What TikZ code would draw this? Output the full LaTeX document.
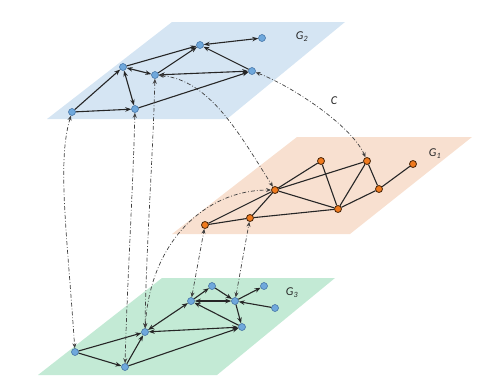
\documentclass[tikz,border=0pt]{standalone}
\usepackage{fontspec}
\setmainfont{Carlito}
\usetikzlibrary{arrows.meta}
\definecolor{planeB}{HTML}{D5E5F3}
\definecolor{planeO}{HTML}{F8E0D0}
\definecolor{planeG}{HTML}{C3EAD5}
\definecolor{nodeB}{HTML}{6FA8DC}
\definecolor{nodeBd}{HTML}{3A6A9E}
\definecolor{nodeO}{HTML}{F07A1E}
\definecolor{nodeOd}{HTML}{4A2508}
\definecolor{linkc}{HTML}{404040}
\tikzset{
  bnode/.style={circle,fill=nodeB,draw=nodeBd,line width=0.5pt,inner sep=0pt,minimum size=7pt},
  onode/.style={circle,fill=nodeO,draw=nodeOd,line width=0.8pt,inner sep=0pt,minimum size=7pt},
  edge/.style={line width=1.1pt,black!85},
  dir/.style={edge,-{Stealth[length=6pt,width=4.5pt]}},
  bidir/.style={edge,{Stealth[length=6pt,width=4.5pt]}-{Stealth[length=6pt,width=4.5pt]}},
  link/.style={linkc,line width=0.7pt,dash pattern=on 4pt off 2pt on 0.8pt off 2pt,
    {Stealth[length=5pt,width=4pt]}-{Stealth[length=5pt,width=4pt]}},
  lbl/.style={font=\itshape\fontsize{12}{14}\selectfont,text=black!85}
}
\begin{document}
\begin{tikzpicture}[x=1pt,y=-1pt]
\useasboundingbox (0,0) rectangle (504,389);
% planes
\fill[planeB] (47,119) -- (227,119) -- (345,22) -- (172,22) -- cycle;
\fill[planeO] (172,234) -- (350,234) -- (472,137) -- (297,137) -- cycle;
\fill[planeG] (38,375) -- (217,375) -- (335,278) -- (162,278) -- cycle;
% labels
\node[lbl] (lG2) at (302,37) {G\textsubscript{2}};
\node[lbl] (lC) at (334,101) {C};
\node[lbl] (lG1) at (435,154) {G\textsubscript{1}};
\node[lbl] (lG3) at (292,293) {G\textsubscript{3}};
% G2 nodes
\node[bnode] (a) at (262,38) {};
\node[bnode] (b) at (200,45) {};
\node[bnode] (c) at (123,67) {};
\node[bnode] (d) at (155,75) {};
\node[bnode] (e) at (252,71) {};
\node[bnode] (f) at (72,112) {};
\node[bnode] (g) at (135,109) {};
% G1 nodes
\node[onode] (p1) at (321,161) {};
\node[onode] (p2) at (367,161) {};
\node[onode] (p3) at (413,164) {};
\node[onode] (p4) at (275,190) {};
\node[onode] (p5) at (379,189) {};
\node[onode] (p6) at (338,209) {};
\node[onode] (p7) at (250,218) {};
\node[onode] (p8) at (205,225) {};
% G3 nodes
\node[bnode] (q1) at (212,286) {};
\node[bnode] (q2) at (264,286) {};
\node[bnode] (q3) at (191,301) {};
\node[bnode] (q4) at (235,301) {};
\node[bnode] (q5) at (275,308) {};
\node[bnode] (q6) at (145,332) {};
\node[bnode] (q7) at (242,327) {};
\node[bnode] (q8) at (75,352) {};
\node[bnode] (q9) at (125,367) {};
% G2 edges
\draw[bidir] (b) -- (a);
\draw[dir] (c) -- (b);
\draw[dir] (d) -- (b);
\draw[dir] (e) -- (b);
\draw[bidir] (c) -- (d);
\draw[bidir] (d) -- (e);
\draw[bidir] (c) -- (g);
\draw[dir] (f) -- (c);
\draw[dir] (f) -- (g);
\draw[dir] (g) -- (e);
% G1 edges
\foreach \u/\v in {p8/p7,p8/p4,p7/p4,p7/p6,p4/p1,p4/p2,p4/p6,p1/p6,p2/p6,p2/p5,p5/p6,p5/p3}
  \draw[edge] (\u) -- (\v);
% G3 edges
\draw[dir] (q3) -- (q1);
\draw[dir] (q1) -- (q4);
\draw[dir] (q4) -- (q2);
\draw[dir] (q5) -- (q4);
\draw[bidir] (q3) -- (q4);
\draw[dir] (q4) -- (q7);
\draw[dir] (q7) -- (q3);
\draw[bidir] (q6) -- (q3);
\draw[bidir] (q6) -- (q7);
\draw[dir] (q8) -- (q6);
\draw[dir] (q9) -- (q6);
\draw[dir] (q8) -- (q9);
\draw[dir] (q9) -- (q7);
% inter-layer links
\draw[link] (f) .. controls +(-15,50) and +(-8,-120) .. (q8);
\draw[link] (g) .. controls +(-2,80) and +(2,-80) .. (q9);
\draw[link] (d) .. controls +(-2,80) and +(1,-80) .. (q6);
\draw[link] (q6) .. controls +(5,-90) and +(-70,0) .. (p4);
\draw[link] (d) .. controls +(55,5) and +(-35,-55) .. (p4);
\draw[link] (e) .. controls +(40,15) and +(-15,-35) .. (p2);
\draw[link] (q3) -- (p8);
\draw[link] (q4) -- (p7);
\end{tikzpicture}
\end{document}
